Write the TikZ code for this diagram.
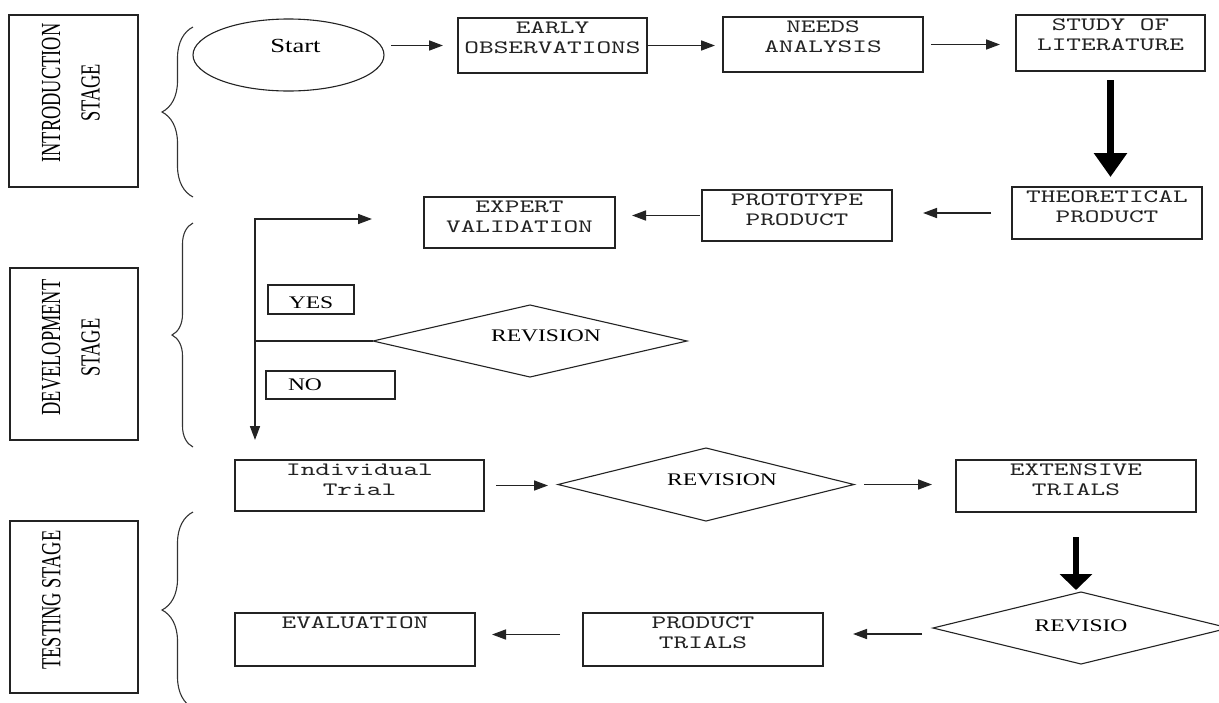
\documentclass[tikz,border=0pt]{standalone}
\usepackage{fontspec}
\usepackage{graphicx}
\usetikzlibrary{shapes.geometric,arrows.meta,decorations.pathreplacing}
\newfontfamily\wideserif[FakeStretch=1.33]{Liberation Serif}
\newfontfamily\stagefont{Liberation Serif}
\newfontfamily\boxfont[FakeStretch=1.48]{lmmono10-regular.otf}
\definecolor{inkgray}{RGB}{35,35,35}

% text of a step box, set at the top of the box
\newcommand{\boxlines}[3]{\parbox[c][#2][t]{#1}{\centering\vspace*{3.5pt}#3}}
% rotated stage title: width, height, text, shift along, raise
\newcommand{\stagelabel}[5]{\parbox[c][#2][c]{#1}{\centering\hspace*{#4}\makebox[0pt]{\raisebox{#5}[0pt][0pt]{\scalebox{1}[1.5]{\begin{tabular}{@{}c@{}}#3\end{tabular}}}}\hspace*{-#4}}}

\tikzset{
  stepbox/.style={draw=inkgray, line width=1.1pt, inner sep=0pt, outer sep=0pt, text=inkgray,
    font=\boxfont\fontsize{18.9}{20}\selectfont},
  stagebox/.style={draw=inkgray, line width=1.1pt, inner sep=0pt, outer sep=0pt, rotate=90,
    font=\stagefont\fontsize{18.4}{26.3}\selectfont},
  decision/.style={diamond, draw=inkgray, line width=1.1pt, shape aspect=4.4, inner sep=1pt,
    outer sep=0pt, font=\wideserif\fontsize{17.7}{20}\selectfont, text height=11.7pt, text depth=10pt},
  answerbox/.style={draw=inkgray, line width=1.1pt, inner sep=0pt, outer sep=0pt,
    font=\wideserif\fontsize{17.7}{20}\selectfont},
  flow/.style={draw=inkgray, line width=1.6pt, -{Triangle[length=14pt,width=10pt]}},
  bigflow/.style={draw=black, line width=6.5pt, -{Triangle[length=#1,width=32pt]}},
  bigflow/.default=24pt,
  stagebrace/.style={draw=black!80, line width=1.1pt, decorate, decoration={brace,amplitude=#1}}
}

\begin{document}
\begin{tikzpicture}[x=1pt,y=-1pt]
  \path[use as bounding box, fill=white] (0,0) rectangle (1219,702);

  % Stage titles and braces
  \node[stagebox] (intro) at (73.5,101) {\stagelabel{172pt}{129pt}{INTRODUCTION\\STAGE}{8pt}{-4.9pt}};
  \node[stagebox] (devel) at (74,354) {\stagelabel{172pt}{128pt}{DEVELOPMENT\\STAGE}{6.5pt}{-4.4pt}};
  \node[stagebox] (testing) at (74,607) {\stagelabel{172pt}{128pt}{TESTING STAGE}{7pt}{15.1pt}};
  \draw[stagebrace=31pt] (193,197) -- (193,27);
  \draw[stagebrace=21pt] (193,447) -- (193,223);
  \draw[stagebrace=31pt] (193,708) -- (193,512);

  % Introduction row
  \node[ellipse, draw=inkgray, line width=1.1pt, outer sep=0pt, minimum width=191pt, minimum height=72pt,
    font=\wideserif\fontsize{20}{22}\selectfont, text height=13.3pt, text depth=18pt] (start) at (288.5,55) {\hspace*{14pt}Start};
  \node[stepbox] (early) at (552.5,45.5) {\boxlines{189pt}{55pt}{EARLY\\OBSERVATIONS}};
  \node[stepbox] (needs) at (823,44.5) {\boxlines{200pt}{55pt}{NEEDS\\ANALYSIS}};
  \node[stepbox] (study) at (1110.5,43) {\boxlines{189pt}{56pt}{STUDY OF\\LITERATURE}};

  % Development rows
  \node[stepbox] (theo) at (1107,213) {\boxlines{190pt}{52pt}{THEORETICAL\\PRODUCT}};
  \node[stepbox] (proto) at (797,215.5) {\boxlines{190pt}{51pt}{PROTOTYPE\\PRODUCT}};
  \node[stepbox] (expert) at (519.5,222.5) {\boxlines{191pt}{51pt}{EXPERT\\VALIDATION}};
  \node[answerbox, minimum width=86pt, minimum height=29pt, text height=17.7pt] (yesbox) at (311,299.5) {YES};
  \node[answerbox, minimum width=129pt, minimum height=28pt, text width=85pt, align=left, inner xsep=22pt] (nobox) at (330.5,385) {NO};
  \node[decision, minimum width=314pt, minimum height=72pt] (rev1) at (530,341) {\hspace*{32pt}REVISION};

  % Testing rows
  \node[stepbox] (indiv) at (359.5,485.5) {\boxlines{249pt}{51pt}{Individual\\Trial}};
  \node[decision, minimum width=296pt, minimum height=73pt] (rev2) at (706,484.5) {\hspace*{32pt}REVISION};
  \node[stepbox] (ext) at (1076,486) {\boxlines{240pt}{52pt}{EXTENSIVE\\TRIALS}};
  \node[decision, minimum width=296pt, minimum height=72pt, text depth=4pt] (revisio) at (1081,628) {REVISIO};
  \node[stepbox] (product) at (703,639.5) {\boxlines{240pt}{53pt}{PRODUCT\\TRIALS}};
  \node[stepbox] (eval) at (355,639.5) {\boxlines{240pt}{53pt}{EVALUATION}};

  % Connectors
  \draw[flow, shorten <=7pt, shorten >=15pt] (start.east |- early.west) -- (early.west);
  \draw[flow, shorten >=8pt] (early.east) -- (early.east -| needs.west);
  \draw[flow, shorten <=8pt, shorten >=16pt] (needs.east) -- (needs.east -| study.west);
  \draw[bigflow, shorten <=9pt, shorten >=10pt] (study.south) -- (study.south |- theo.north);
  \draw[flow, shorten <=21pt, shorten >=31pt] (theo.west) -- (theo.west -| proto.east);
  \draw[flow, shorten <=2pt, shorten >=17pt] (proto.west) -- (proto.west -| expert.east);

  % Revision loop
  \coordinate (split) at (255,341);
  \coordinate (yesend) at (372,219);
  \coordinate (noend) at (255,440);
  \draw[flow] (rev1.west) -- (split) |- (yesend);
  \draw[flow] (split) -- (noend);

  \draw[flow, shorten <=12pt, shorten >=10pt] (indiv.east) -- (indiv.east -| rev2.west);
  \draw[flow, shorten <=10pt, shorten >=24pt] (rev2.east) -- (rev2.east -| ext.west);
  \draw[bigflow=16pt, shorten <=25pt, shorten >=2pt] (ext.south) -- (ext.south |- revisio.north);
  \draw[flow, shorten <=11pt, shorten >=30pt] ([yshift=-6pt]revisio.west) -- ([yshift=-6pt]revisio.west -| product.east);
  \draw[flow, shorten <=23pt, shorten >=17pt] ([yshift=5pt]product.west) -- ([yshift=5pt]product.west -| eval.east);
\end{tikzpicture}
\end{document}
